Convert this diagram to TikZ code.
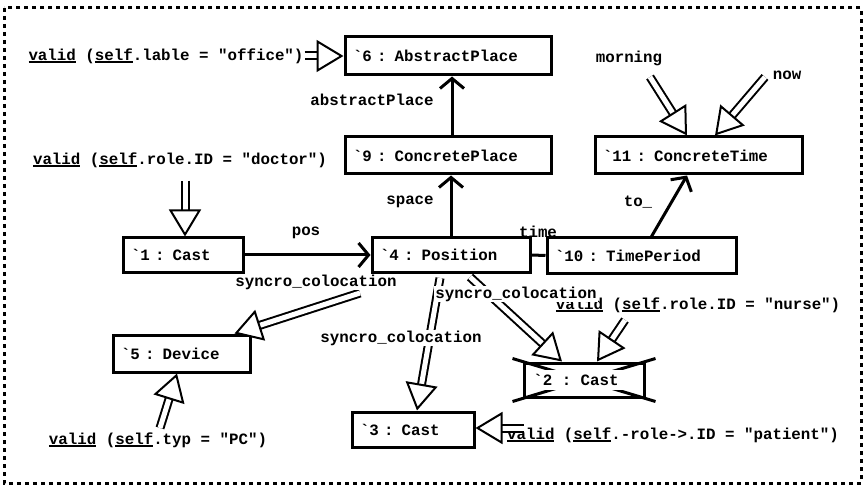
\documentclass[tikz,border=0pt]{standalone}
\usepackage{fontspec}
\setmonofont{Liberation Mono}
\usetikzlibrary{arrows.meta,calc}
\newcommand{\myul}[1]{\setbox0\hbox{#1}\rlap{\rule[-2.6pt]{\wd0}{1.6pt}}#1}
\newcommand{\dbl}[2]{%
  \draw[dshaft] (#1) -- ($(#2)!24pt!(#1)$);
  \draw[dtip] ($(#2)!29pt!(#1)$) -- (#2);}
\tikzset{
  every node/.style={font=\ttfamily\bfseries\fontsize{15.8pt}{18pt}\selectfont},
  lbl/.style={inner sep=1pt},
  obj/.style={draw, line width=3pt, fill=white, align=left, inner xsep=8pt, inner ysep=2pt},
  conn/.style={line width=3pt},
  sarrow/.style={conn, -{Straight Barb[length=10pt,width=24pt]}},
  dshaft/.style={draw=black, line width=2pt, double=white, double distance=5pt},
  dtip/.style={draw=white, line width=2pt, -{Triangle[length=27pt,width=32pt,color=black,fill=white]}},
  slbl/.style={inner sep=1pt, fill=white}
}
\begin{document}
\begin{tikzpicture}[x=1pt,y=-1pt]
\useasboundingbox (0,0) rectangle (864,486);
\draw[line width=3pt, dash pattern=on 4pt off 4pt] (4,8) rectangle (861,483);

% constraint texts
\node[lbl] (vOffice) at (166,56) {\myul{valid} (\myul{self}.lable = "office")};
\node[lbl] (vDoctor) at (180,160) {\myul{valid} (\myul{self}.role.ID = "doctor")};
\node[lbl] (vNurse) at (698,305) {\myul{valid} (\myul{self}.role.ID = "nurse")};
\node[lbl] (vPC) at (158,440) {\myul{valid} (\myul{self}.typ = "PC")};
\node[lbl] (vPatient) at (673,435) {\myul{valid} (\myul{self}.-role->.ID = "patient")};
\node[lbl] (morning) at (629,58) {morning};
\node[lbl] (now) at (787,75) {now};

% link labels
\node[lbl] (lAbs) at (372,100) {abstractPlace};
\node[lbl] (lSpace) at (410,202) {space};
\node[lbl] (lPos) at (306,233) {pos};
\node[lbl] (lTime) at (538,232) {time};
\node[lbl] (lTo) at (638,202) {to\_};

% objects
\node[obj, minimum width=206pt, text width=190pt, minimum height=38pt] (n6) at (448,56) {\textasciigrave 6 : AbstractPlace};
\node[obj, minimum width=206pt, text width=190pt, minimum height=37pt] (n9) at (448,155.5) {\textasciigrave 9 : ConcretePlace};
\node[obj, minimum width=207pt, text width=191pt, minimum height=37pt] (n11) at (698.5,155.5) {\textasciigrave 11 : ConcreteTime};
\node[obj, minimum width=120pt, text width=104pt, minimum height=34pt] (n1) at (183,255) {\textasciigrave 1 : Cast};
\node[obj, minimum width=158pt, text width=142pt, minimum height=34pt] (n4) at (451,255) {\textasciigrave 4 : Position};
\node[obj, minimum width=189pt, text width=173pt, minimum height=35pt] (n10) at (641.5,255.5) {\textasciigrave 10 : TimePeriod};
\node[obj, minimum width=137pt, text width=121pt, minimum height=37pt] (n5) at (181.5,353.5) {\textasciigrave 5 : Device};
\node[obj, minimum width=122pt, text width=106pt, minimum height=35pt] (n3) at (413,429.5) {\textasciigrave 3 : Cast};
\node[draw, line width=3pt, minimum width=120pt, minimum height=34pt] (n2) at (584,380) {};
\draw[conn] ([shift={(-10pt,3pt)}]n2.north west) -- ([shift={(10pt,-3pt)}]n2.south east);
\draw[conn] ([shift={(-10pt,-3pt)}]n2.south west) -- ([shift={(10pt,3pt)}]n2.north east);
\node[fill=white, inner xsep=4pt, inner ysep=4pt] (n2t) at (576,380) {\textasciigrave 2 : Cast};

% single connectors
\draw[sarrow] ([xshift=4pt]n9.north) -- ([xshift=4pt]n6.south);
\draw[sarrow] (n4.north) -- (n4.north |- n9.south);
\draw[sarrow] (n1.east) -- (n4.west);
\draw[conn] (n4.east) -- (n10.west);
\draw[sarrow] ([xshift=10pt]n10.north) -- ([xshift=-11.5pt]n11.north |- n11.south);

% double (constraint / syncro) arrows
\coordinate (mS) at (650,77);
\coordinate (nS) at (765,77);
\coordinate (sa) at (360,293);
\coordinate (sb) at (440,278);
\coordinate (sc) at (470,277);
\coordinate (nuS) at (625,320);
\coordinate (pcS) at (160,428);
\coordinate (paS) at (524,428);
\dbl{vOffice.east}{n6.west}
\dbl{[xshift=5pt,yshift=-12pt]vDoctor.south}{[xshift=2pt]n1.north}
\dbl{mS}{[xshift=-11.5pt]n11.north}
\dbl{nS}{[xshift=16.5pt]n11.north}
\dbl{sa}{[xshift=-17pt]n5.north east}
\dbl{sb}{[xshift=4pt]n3.north}
\dbl{sc}{[xshift=-22pt]n2.north}
\dbl{nuS}{[xshift=13pt]n2.north}
\dbl{pcS}{[xshift=-4.5pt]n5.south}
\dbl{paS}{[yshift=1.5pt]n3.east}

% syncro labels
\node[slbl] (ls1) at (316,282) {syncro\_colocation};
\node[slbl] (ls2) at (516,294) {syncro\_colocation};
\node[slbl] (ls3) at (401,338) {syncro\_colocation};
\end{tikzpicture}
\end{document}
